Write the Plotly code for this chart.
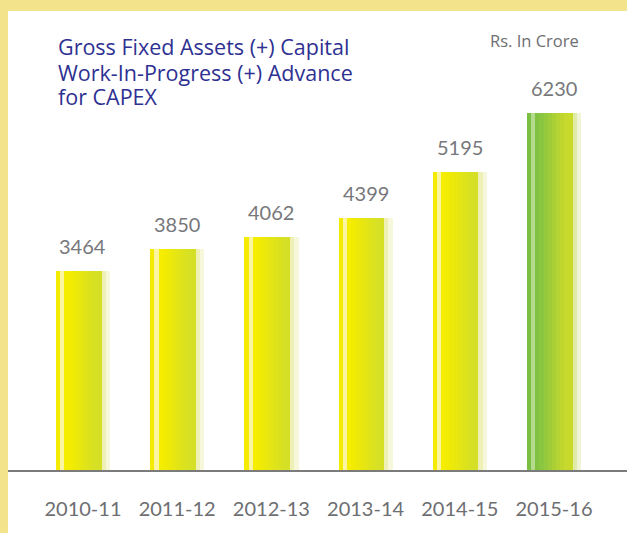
import plotly.graph_objects as go

years = ['2010-11', '2011-12', '2012-13', '2013-14', '2014-15', '2015-16']
values = [3464, 3850, 4062, 4399, 5195, 6230]
title_lines = ['Gross Fixed Assets (+) Capital', 'Work-In-Progress (+) Advance', 'for CAPEX']
unit_text = 'Rs. In Crore'

# vertical slices to fake the cylinder-like gradient of each bar
yellow_shades = ['#f5eb00', '#fbf4a0', '#f6ee00', '#f3ec02', '#eeea08', '#e9e70e', '#e4e514',
                 '#dfe31a', '#dae21f', '#d6e024', '#d4df26', '#eef0b5', '#f7f7dc']
green_shades = ['#78bf42', '#b3da8d', '#82c243', '#8bc641', '#95c93e', '#a0cc3a', '#abd036',
                '#b5d332', '#bfd62f', '#c6d92c', '#c8da2a', '#e0ebaa', '#f0f5d8']

bar_w = 0.573
n = len(yellow_shades)
sw = bar_w / n

fig = go.Figure()
for i in range(n):
    cols = [yellow_shades[i]] * (len(years) - 1) + [green_shades[i]]
    fig.add_trace(go.Bar(
        x=years, y=values,
        width=sw * 1.05, offset=-bar_w / 2 + i * sw,
        marker=dict(color=cols, line=dict(width=0)),
        hoverinfo='skip', showlegend=False
    ))

for yr, v in zip(years, values):
    fig.add_annotation(x=yr, y=v, text=str(v), showarrow=False,
                       yanchor='bottom', yshift=11,
                       font=dict(family='Lato', size=20, color='#77787b'))

# title lines, 25px apart
plot_h = 533 - 11 - 63
for k, line in enumerate(title_lines):
    fig.add_annotation(xref='paper', yref='paper', x=0.077,
                       y=1 - (36 + 25 * k) / plot_h,
                       xanchor='left', yanchor='middle', align='left',
                       text=line, showarrow=False,
                       font=dict(family='Open Sans', size=21.5, color='#2e3192'))
fig.add_annotation(xref='paper', yref='paper', x=0.926, y=0.935,
                   xanchor='right', yanchor='middle',
                   text=unit_text, showarrow=False,
                   font=dict(family='Open Sans', size=16.5, color='#6d6e71'))

# white panel under the tick labels (paper is the yellow frame)
fig.add_shape(type='rect', xref='paper', yref='paper',
              x0=0, x1=1.05, y0=-0.3, y1=0, fillcolor='white',
              line=dict(width=0), layer='below')

fig.update_layout(
    width=627, height=533,
    margin=dict(l=8, r=0, t=11, b=63, autoexpand=False),
    paper_bgcolor='#f3e48c', plot_bgcolor='white',
    barmode='overlay', bargap=0,
    font=dict(family='Lato', color='#6d6e71'),
    xaxis=dict(type='category', range=[-0.796, 5.775], showline=True,
               linecolor='#7b7b7b', linewidth=2, automargin=False,
               showgrid=False, zeroline=False, ticks='', ticklabelstandoff=20,
               tickfont=dict(size=20, color='#6d6e71')),
    yaxis=dict(range=[0, 8000], visible=False, showgrid=False, zeroline=False),
)

fig.write_html('out.html', config={'displayModeBar': False},
               post_script="document.body.style.margin='0';")
